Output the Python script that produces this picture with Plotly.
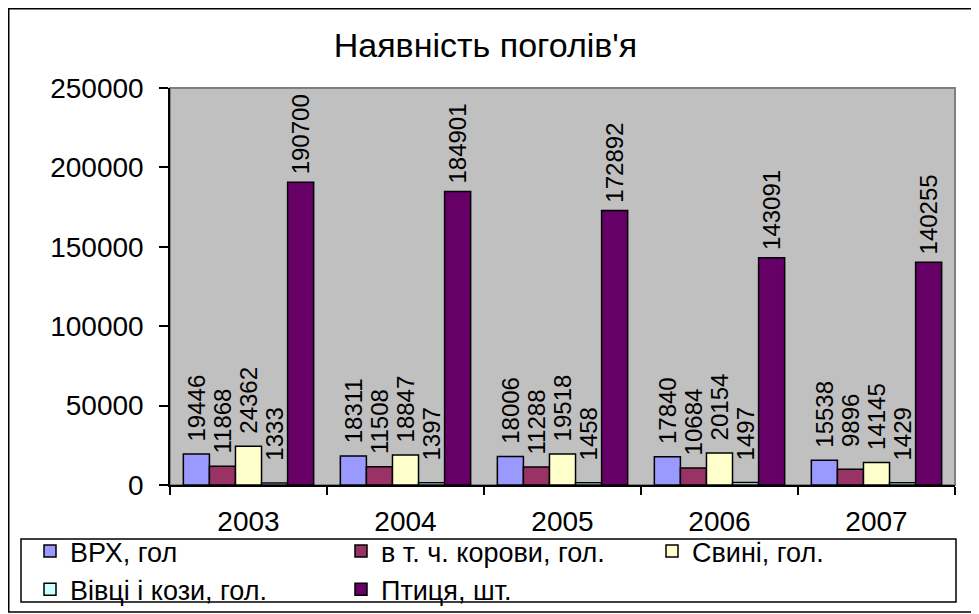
import plotly.graph_objects as go

# --- дані ---
years = ["2003", "2004", "2005", "2006", "2007"]
vrh = [19446, 18311, 18006, 17840, 15538]
korovy = [11868, 11508, 11288, 10684, 9896]
svyni = [24362, 18847, 19518, 20154, 14145]
vivtsi = [1333, 1397, 1458, 1497, 1429]
ptytsia = [190700, 184901, 172892, 143091, 140255]

series_names = ["ВРХ, гол", "в т. ч. корови, гол.", "Свині, гол.",
                "Вівці і кози, гол.", "Птиця, шт."]
series_values = [vrh, korovy, svyni, vivtsi, ptytsia]
series_colors = ["#9999FF", "#993366", "#FFFFCC", "#CCFFFF", "#660066"]

FONT = "Arial, Liberation Sans, sans-serif"

# сторінка має відступ 8px, тому фігура трохи менша за вікно
W, H = 971, 606
L, R, T, B = 162, 24, 80, 129
pw, ph = W - L - R, H - T - B


def label(v):
    # підписи в Excel центровані в однаковій "комірці" над стовпцем
    s = str(v)
    n = max(0, round((44 - 6.67 * len(s)) / 4.8))
    return "\u2009" * n + s


fig = go.Figure()
for name, vals, col in zip(series_names, series_values, series_colors):
    fig.add_trace(go.Bar(
        x=years, y=vals, name=name,
        marker=dict(color=col, line=dict(color="black", width=1.5)),
        text=[label(v) for v in vals],
        textposition="outside",
        textangle=-90,
        textfont=dict(family=FONT, size=24, color="black"),
        constraintext="none",
        cliponaxis=False,
    ))


def px_x(x):
    return (x - L) / pw


def px_y(y):
    return (H - B - y) / ph


# рамка навколо всієї діаграми
fig.add_shape(type="rect", xref="paper", yref="paper",
              x0=px_x(0.75), x1=px_x(967), y0=px_y(604), y1=px_y(0.75),
              line=dict(color="black", width=1.5), fillcolor="rgba(0,0,0,0)",
              layer="below")
# рамка області побудови
fig.add_shape(type="rect", xref="paper", yref="paper",
              x0=0, x1=1, y0=0, y1=1,
              line=dict(color="#808080", width=2), layer="below")
# рамка легенди
fig.add_shape(type="rect", xref="paper", yref="paper",
              x0=px_x(13), x1=px_x(948), y0=px_y(594), y1=px_y(531),
              line=dict(color="black", width=1.5), fillcolor="rgba(0,0,0,0)",
              layer="below")

fig.update_layout(
    width=W, height=H,
    margin=dict(l=L, r=R, t=T, b=B, autoexpand=False),
    paper_bgcolor="white",
    plot_bgcolor="#C0C0C0",
    barmode="group",
    bargap=0.17,
    bargroupgap=0,
    font=dict(family=FONT, color="black"),
    title=dict(text="Наявність поголів'я", x=477.5 / W, xanchor="center",
               y=1 - 37 / H, yanchor="middle",
               font=dict(family=FONT, size=34, color="black")),
    showlegend=True,
    legend=dict(
        orientation="h",
        x=px_x(22), xanchor="left",
        y=px_y(519), yanchor="top",
        borderwidth=0,
        bgcolor="rgba(0,0,0,0)",
        font=dict(family=FONT, size=27, color="black"),
        entrywidth=266, entrywidthmode="pixels",
        traceorder="normal",
    ),
    xaxis=dict(
        type="category",
        showline=True, linecolor="black", linewidth=1.5,
        ticks="outside", tickson="boundaries", ticklen=8,
        tickcolor="black", tickwidth=1.5,
        tickfont=dict(family=FONT, size=28, color="black"),
        ticklabelstandoff=11,
        showgrid=False,
    ),
    yaxis=dict(
        range=[0, 250000],
        tickvals=[0, 50000, 100000, 150000, 200000, 250000],
        ticktext=["0", "50000", "100000", "150000", "200000", "250000"],
        showline=True, linecolor="black", linewidth=1.5,
        ticks="outside", ticklen=9, tickcolor="black", tickwidth=1.5,
        tickfont=dict(family=FONT, size=28, color="black"),
        ticklabelstandoff=10,
        showgrid=False, zeroline=False,
    ),
)

fig.write_html("out.html")
